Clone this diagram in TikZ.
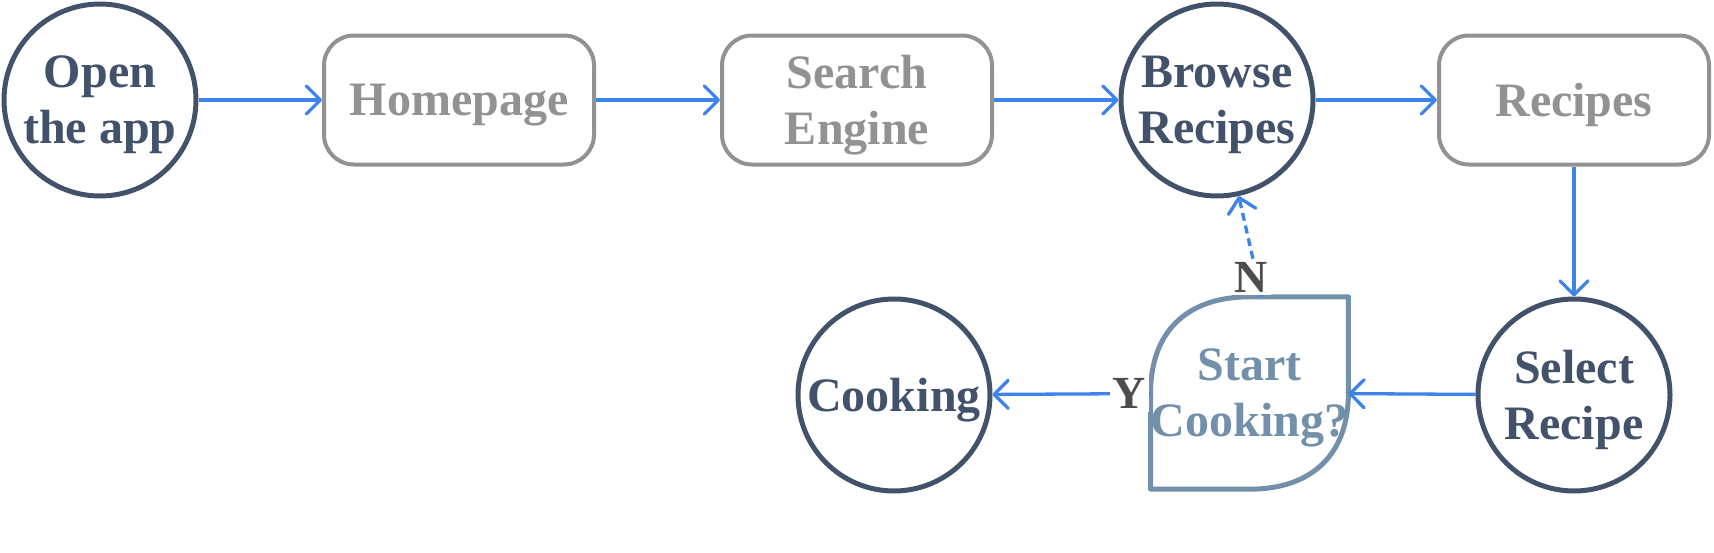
\documentclass[tikz,border=0pt]{standalone}
\usepackage{fontspec}
\setmainfont{Liberation Serif}
\usetikzlibrary{positioning}
\usetikzlibrary{arrows.meta}
\definecolor{nv}{RGB}{66,82,107}
\definecolor{gr}{RGB}{146,146,146}
\definecolor{bl}{RGB}{61,131,232}
\definecolor{sl}{RGB}{114,144,170}
\definecolor{tx}{RGB}{77,77,77}

\begin{document}
\begin{tikzpicture}[
    x=1pt, y=-1pt,
    font=\bfseries\fontsize{48}{56}\selectfont,
    a/.style={
        line width=3.3pt,
        color=bl,
    },
    l/.style={
        a,-{Straight Barb[length=14pt,width=28pt,round]}
    },
    d/.style={
        l, dash pattern=on 8pt off 5pt
    },
    c/.style={
        circle, draw=nv, line width=5pt, minimum size=192pt,
        inner sep=0pt, text depth=0pt, text=nv, align=center
    },
    b/.style={
        rectangle, draw=gr, line width=4pt, rounded corners=30pt,
        minimum width=270pt, minimum height=129pt,
        text depth=0pt, text=gr, align=center
    },
    q/.style={
        rectangle, minimum width=191pt, minimum height=192pt,
        inner sep=0pt, text depth=0pt, text=sl, align=center
    },
    e/.style={
        fill=white, text=tx, inner sep=3pt,
        font=\bfseries\fontsize{46}{46}\selectfont
    }
]
    \useasboundingbox (0,0) rectangle (1714,552);

    \node [c] (open)   at ( 100  , 100) {Open\\the app};
    \node [b] (home)   at ( 459  , 100) {Homepage};
    \node [b] (search) at ( 857  , 100) {Search\\Engine};
    \node [c] (browse) at (1217  , 100) {Browse\\Recipes};
    \node [b] (recipe) at (1574  , 100) {Recipes};
    \node [c] (select) at (1574  , 395) {Select\\Recipe};
    \node [q] (start)  at (1249.5, 393) {Start\\Cooking?};
    \node [c] (cook)   at ( 894  , 395) {Cooking};

    \draw [sl, line width=5pt, line join=round]
        (start.north east) -- (start.north) to [out=180,in=90,looseness=1.15] (start.west)
        -- (start.south west) -- (start.south) to [out=0,in=270,looseness=1.15] (start.east)
        -- cycle;

    \draw (open) -- (home) [l];
    \draw (home) -- (search) [l];
    \draw (search) -- (browse) [l];
    \draw (browse) -- (recipe) [l];
    \draw (recipe) -- (select) [l];
    \draw (select) -- (start) [l];
    \draw (start) -- (cook) [l] node [e,pos=0,anchor=east] {Y};
    \draw ([xshift=12pt]start.north) -- (browse) [d] node [e,pos=0,anchor=south,xshift=-10pt] {N};

\end{tikzpicture}
\end{document}
